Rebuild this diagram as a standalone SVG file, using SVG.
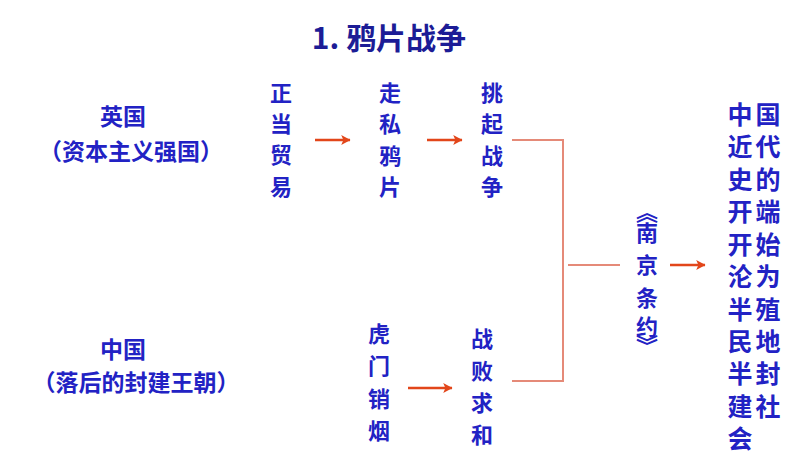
<svg xmlns="http://www.w3.org/2000/svg" width="800" height="456" viewBox="0 0 800 456">
  <style>
    text { font-family: "Noto Sans CJK SC", "Noto Sans", sans-serif; fill: #2222c4; font-weight: bold; text-anchor: middle; dominant-baseline: central; }
    .title { font-size: 30px; fill: #1c1c96; font-weight: 600; }
    .lbl { font-size: 23px; }
    .col { font-size: 22px; }
    .res { font-size: 25px; }
    .arrow { stroke: #e2461a; stroke-width: 2.6; fill: none; marker-end: url(#ah); }
    .bracket { stroke: #e58a78; stroke-width: 2; fill: none; }
  </style>
  <defs>
    <marker id="ah" viewBox="0 0 10 10" refX="9" refY="5" markerWidth="11" markerHeight="11" orient="auto" markerUnits="userSpaceOnUse">
      <path d="M1,0.5 L9.5,5 L1,9.5 L3,5 Z" fill="#e2461a"/>
    </marker>
  </defs>
  <rect width="800" height="456" fill="#ffffff"/>

  <g id="title"><text class="title" x="389" y="36">1. 鸦片战争</text></g>

  <g id="britain">
    <text class="lbl" x="123" y="115">英国</text>
    <text class="lbl" x="131" y="150">（资本主义强国）</text>
  </g>
  <g id="china">
    <text class="lbl" x="123" y="348">中国</text>
    <text class="lbl" x="136" y="381">（落后的封建王朝）</text>
  </g>

  <g id="trade"><text class="col"><tspan x="281" y="91">正</tspan><tspan x="281" y="122">当</tspan><tspan x="281" y="153">贸</tspan><tspan x="281" y="185">易</tspan></text></g>
  <g id="smuggle"><text class="col"><tspan x="390" y="91">走</tspan><tspan x="390" y="122">私</tspan><tspan x="390" y="154">鸦</tspan><tspan x="390" y="185">片</tspan></text></g>
  <g id="provoke"><text class="col"><tspan x="492" y="91">挑</tspan><tspan x="492" y="122">起</tspan><tspan x="492" y="154">战</tspan><tspan x="492" y="185">争</tspan></text></g>
  <g id="humen"><text class="col"><tspan x="379" y="332">虎</tspan><tspan x="379" y="364">门</tspan><tspan x="379" y="397">销</tspan><tspan x="379" y="429">烟</tspan></text></g>
  <g id="defeat"><text class="col"><tspan x="482" y="337">战</tspan><tspan x="482" y="369">败</tspan><tspan x="482" y="401">求</tspan><tspan x="482" y="433">和</tspan></text></g>

  <g id="treaty"><text class="col"><tspan x="647" y="210">︽</tspan><tspan x="647" y="231">南</tspan><tspan x="647" y="263">京</tspan><tspan x="647" y="296">条</tspan><tspan x="647" y="325">约</tspan><tspan x="647" y="344">︾</tspan></text></g>

  <g id="result">
    <text class="res"><tspan x="740" y="113">中</tspan><tspan x="740" y="145">近</tspan><tspan x="740" y="178">史</tspan><tspan x="740" y="210">开</tspan><tspan x="740" y="243">开</tspan><tspan x="740" y="275">沦</tspan><tspan x="740" y="308">半</tspan><tspan x="740" y="340">民</tspan><tspan x="740" y="372">半</tspan><tspan x="740" y="405">建</tspan><tspan x="740" y="437">会</tspan></text>
    <text class="res"><tspan x="768" y="113">国</tspan><tspan x="768" y="145">代</tspan><tspan x="768" y="178">的</tspan><tspan x="768" y="210">端</tspan><tspan x="768" y="243">始</tspan><tspan x="768" y="275">为</tspan><tspan x="768" y="308">殖</tspan><tspan x="768" y="340">地</tspan><tspan x="768" y="372">封</tspan><tspan x="768" y="405">社</tspan></text>
  </g>

  <g id="connectors">
    <line class="arrow" x1="315" y1="140" x2="350" y2="140"/>
    <line class="arrow" x1="427" y1="140" x2="462" y2="140"/>
    <line class="arrow" x1="408" y1="388" x2="452" y2="388"/>
    <line class="arrow" x1="670" y1="265" x2="705" y2="265"/>
    <polyline class="bracket" points="512,140 563,140 563,381 512,381"/>
    <line class="bracket" x1="568" y1="265" x2="620" y2="265"/>
  </g>
</svg>
